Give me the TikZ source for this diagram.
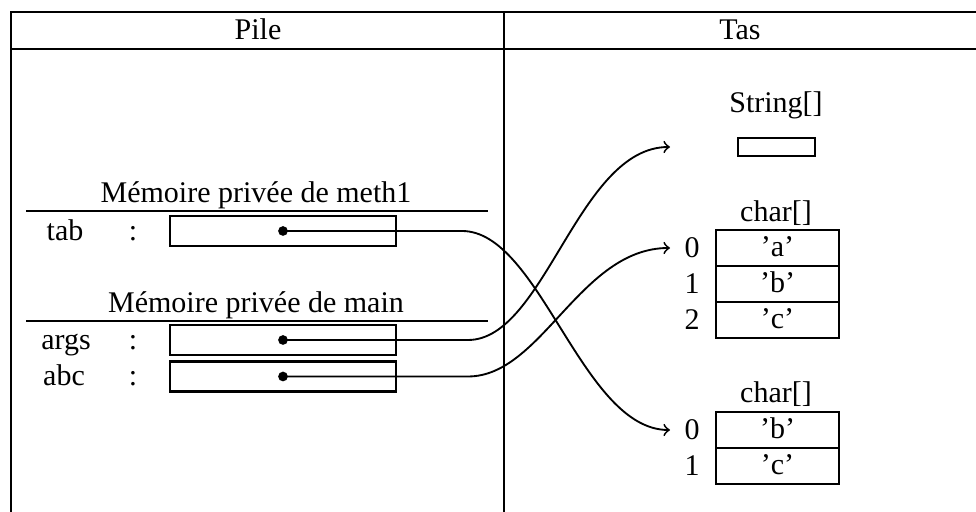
\documentclass[tikz,border=0pt]{standalone}
\usepackage{fontspec}
\setmainfont{Liberation Serif}
\usetikzlibrary{arrows}
\begin{document}
\begin{tikzpicture}[x=0.35pt,y=-0.35pt,
  every node/.style={font=\fontsize{10.5}{12.6}\selectfont, inner sep=0pt},
  txt/.style={anchor=base, yshift=-0.9pt},
  frame/.style={line width=1pt},
  rule/.style={line width=0.75pt},
  slot/.style={draw, line width=0.9pt, minimum width=79.1pt, minimum height=10.5pt},
  heapbox/.style={draw, line width=0.9pt, minimum width=26.95pt, minimum height=6.3pt},
  cell/.style={draw, line width=0.9pt, minimum width=43.05pt, minimum height=12.6pt,
               text height=6.4pt, text depth=0.3pt},
  ptrdot/.style={circle, fill, minimum size=3.4pt},
  ptr/.style={line width=0.65pt, ->, >=to}
]
\useasboundingbox (0,0) rectangle (976,512);
\begin{scope}
\clip (0,0) rectangle (976,512);
% outer frame, header row and column divider
\draw[frame] (11,512) -- (11,12) -- (990,12);
\draw[frame] (11,49) -- (990,49);
\draw[frame] (504,12) -- (504,530);
\end{scope}
\node[txt] (pile) at (258,37) {Pile};
\node[txt] (tas) at (740,37) {Tas};

% stack frames
\node[txt] (fmeth) at (256,200) {Mémoire privée de meth1};
\draw[rule] (26,211) -- (488,211);
\node[txt] (ltab) at (65,238) {tab};
\node[txt] (ctab) at (133,238) {:};
\node[slot] (stab) at (283,231) {};
\node[ptrdot] (dtab) at (283,231) {};

\node[txt] (fmain) at (256,310) {Mémoire privée de main};
\draw[rule] (26,321) -- (488,321);
\node[txt] (largs) at (66,347) {args};
\node[txt] (cargs) at (133,347) {:};
\node[slot] (sargs) at (283,340) {};
\node[ptrdot] (dargs) at (283,340) {};
\node[txt] (labc) at (64,383) {abc};
\node[txt] (cabc) at (133,383) {:};
\node[slot] (sabc) at (283,376.5) {};
\node[ptrdot] (dabc) at (283,376.5) {};

% heap: String[]
\node[txt] (tstr) at (776,110) {String[]};
\node[heapbox] (hstr) at (776.5,147) {};

% heap: first char[]
\node[txt] (tch1) at (776,219) {char[]};
\node[cell] (a0) at (777.5,248) {'a'};
\node[cell] (a1) at (777.5,284) {'b'};
\node[cell] (a2) at (777.5,320) {'c'};
\node[txt] (i0) at (692,255) {0};
\node[txt] (i1) at (692,291) {1};
\node[txt] (i2) at (692,327) {2};

% heap: second char[]
\node[txt] (tch2) at (776,400) {char[]};
\node[cell] (b0) at (777.5,430) {'b'};
\node[cell] (b1) at (777.5,466) {'c'};
\node[txt] (j0) at (692,437) {0};
\node[txt] (j1) at (692,473) {1};

% arrow targets
\coordinate (tstrin) at (670,147);
\coordinate (ta0) at (670,248);
\coordinate (tb0) at (670,430);

% references
\draw[ptr] (dtab.center) -- (462,231) .. controls (540,231) and (582,430) .. (tb0);
\draw[ptr] (dargs.center) -- (468,340) .. controls (545,340) and (578,147) .. (tstrin);
\draw[ptr] (dabc.center) -- (468,376.5) .. controls (542,376.5) and (580,248) .. (ta0);
\end{tikzpicture}
\end{document}
